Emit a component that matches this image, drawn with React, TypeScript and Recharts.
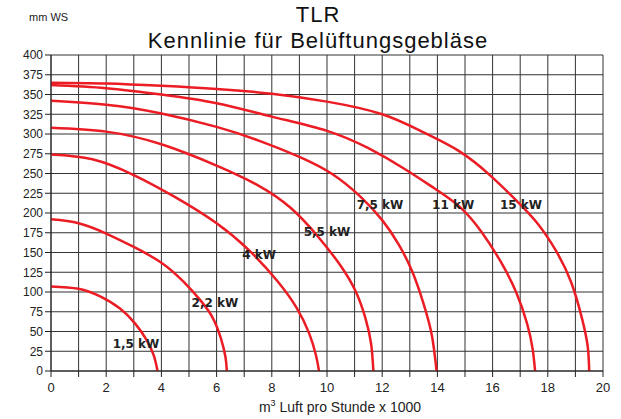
import { LineChart, Line, XAxis, YAxis, CartesianGrid, ReferenceDot } from 'recharts'

// Flow in m³/h x 1000 -> pressure in mm WS
const kw15 = [
  { x: 0, y: 365 }, { x: 2, y: 364 }, { x: 4, y: 361 }, { x: 6, y: 357 }, { x: 8, y: 351 },
  { x: 10, y: 341 }, { x: 12, y: 325 }, { x: 13.5, y: 302 }, { x: 14.8, y: 278 }, { x: 15.9, y: 248 },
  { x: 16.8, y: 218 }, { x: 17.6, y: 188 }, { x: 18.3, y: 152 }, { x: 18.85, y: 112 },
  { x: 19.25, y: 65 }, { x: 19.45, y: 30 }, { x: 19.5, y: 0 },
]
const kw11 = [
  { x: 0, y: 362 }, { x: 2, y: 358 }, { x: 4, y: 350 }, { x: 6, y: 339 }, { x: 8, y: 322 },
  { x: 10, y: 304 }, { x: 11.5, y: 282 }, { x: 12.8, y: 256 }, { x: 13.9, y: 231 }, { x: 14.8, y: 208 },
  { x: 15.6, y: 176 }, { x: 16.3, y: 138 }, { x: 16.85, y: 100 }, { x: 17.25, y: 60 },
  { x: 17.45, y: 28 }, { x: 17.54, y: 0 },
]
const kw75 = [
  { x: 0, y: 342 }, { x: 2, y: 337 }, { x: 4, y: 326 }, { x: 6, y: 309 }, { x: 7.5, y: 292 },
  { x: 9, y: 271 }, { x: 10.2, y: 249 }, { x: 11.2, y: 221 }, { x: 12, y: 191 }, { x: 12.6, y: 160 },
  { x: 13.1, y: 125 }, { x: 13.5, y: 85 }, { x: 13.8, y: 45 }, { x: 13.97, y: 0 },
]
const kw55 = [
  { x: 0, y: 308 }, { x: 2, y: 303 }, { x: 4, y: 287 }, { x: 6, y: 260 }, { x: 7.5, y: 235 },
  { x: 8.7, y: 206 }, { x: 9.7, y: 169 }, { x: 10.5, y: 133 }, { x: 11.05, y: 100 },
  { x: 11.4, y: 66 }, { x: 11.6, y: 34 }, { x: 11.68, y: 0 },
]
const kw4 = [
  { x: 0, y: 274 }, { x: 1.5, y: 268 }, { x: 3, y: 248 }, { x: 4.5, y: 220 }, { x: 6, y: 187 },
  { x: 7.2, y: 152 }, { x: 8.2, y: 114 }, { x: 8.9, y: 80 }, { x: 9.35, y: 48 },
  { x: 9.6, y: 20 }, { x: 9.71, y: 0 },
]
const kw22 = [
  { x: 0, y: 192 }, { x: 1, y: 187 }, { x: 2, y: 174 }, { x: 3, y: 157 }, { x: 4, y: 137 },
  { x: 4.8, y: 113 }, { x: 5.4, y: 90 }, { x: 5.85, y: 68 }, { x: 6.15, y: 42 },
  { x: 6.32, y: 18 }, { x: 6.37, y: 0 },
]
const kw15small = [
  { x: 0, y: 107 }, { x: 1, y: 104 }, { x: 1.8, y: 94 }, { x: 2.5, y: 79 }, { x: 3.05, y: 60 },
  { x: 3.45, y: 40 }, { x: 3.72, y: 20 }, { x: 3.86, y: 0 },
]

const series = [kw15small, kw22, kw4, kw55, kw75, kw11, kw15]

const curveLabels = [
  { text: '1,5 kW', x: 3.08, y: 35 },
  { text: '2,2 kW', x: 5.94, y: 87 },
  { text: '4 kW', x: 7.54, y: 147 },
  { text: '5,5 kW', x: 10.0, y: 176 },
  { text: '7,5 kW', x: 11.92, y: 210 },
  { text: '11 kW', x: 14.57, y: 210 },
  { text: '15 kW', x: 17.03, y: 210 },
]

const xTicks = Array.from({ length: 21 }, (_, i) => i)
const yTicks = Array.from({ length: 17 }, (_, i) => i * 25)

const font = '"Liberation Sans", Arial, sans-serif'

const titleStyle = {
  position: 'absolute' as const,
  left: 0,
  width: 636,
  textAlign: 'center' as const,
  fontSize: 22,
  letterSpacing: 1,
  color: '#111',
}

export default function App() {
  return (
    <div style={{ position: 'absolute', left: 0, top: 0, width: 621, height: 419, fontFamily: font, background: '#fff' }}>
      <div style={{ position: 'absolute', left: 29, top: 11, fontSize: 11, color: '#222' }}>mm WS</div>
      <div style={{ ...titleStyle, top: 2 }}>TLR</div>
      <div style={{ ...titleStyle, top: 28 }}>Kennlinie für Belüftungsgebläse</div>
      <div style={{ position: 'absolute', left: 0, width: 680, top: 398, textAlign: 'center', fontSize: 14, color: '#222' }}>
        m<sup style={{ fontSize: 9 }}>3</sup> Luft pro Stunde x 1000
      </div>
      <LineChart width={621} height={419} margin={{ top: 55, right: 18, bottom: 18, left: 0 }}>
        <CartesianGrid stroke="#333" strokeWidth={1} />
        <XAxis
          dataKey="x"
          type="number"
          domain={[0, 20]}
          ticks={xTicks}
          interval={0}
          height={30}
          tickFormatter={(v: number) => (v % 2 === 0 ? String(v) : '')}
          tick={{ fontSize: 13, fill: '#222', fontFamily: font }}
          tickMargin={6}
          stroke="#222"
          allowDataOverflow
        />
        <YAxis
          dataKey="y"
          type="number"
          domain={[0, 400]}
          ticks={yTicks}
          interval={0}
          width={51}
          tick={{ fontSize: 12, fill: '#222', fontFamily: font }}
          stroke="#222"
        />
        {series.map((d, i) => (
          <Line
            key={i}
            data={d}
            dataKey="y"
            type="natural"
            stroke="#ec1c24"
            strokeWidth={2.5}
            dot={false}
            isAnimationActive={false}
          />
        ))}
        {curveLabels.map((l) => (
          <ReferenceDot
            key={l.text}
            x={l.x}
            y={l.y}
            r={0}
            stroke="none"
            label={{ value: l.text, position: 'center', fontSize: 12, fontWeight: 'bold', fill: '#222', fontFamily: '"DejaVu Sans", sans-serif' }}
          />
        ))}
      </LineChart>
    </div>
  )
}
